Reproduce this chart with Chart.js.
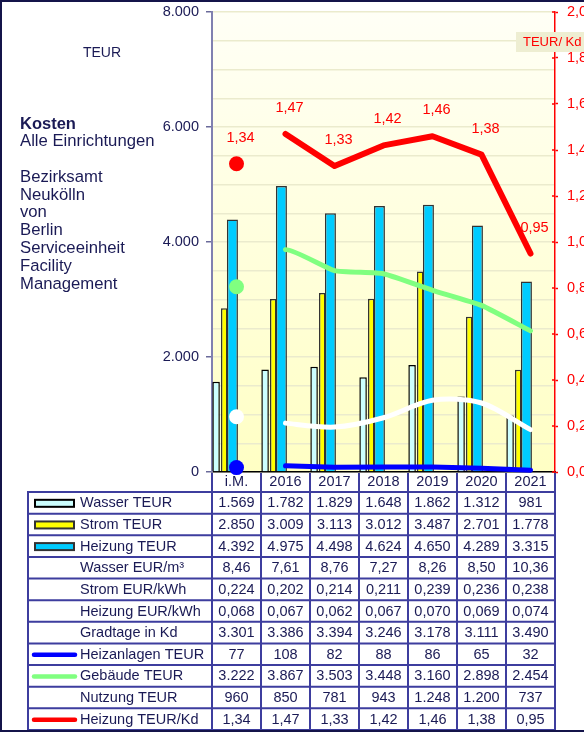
<!DOCTYPE html>
<html>
<head>
<meta charset="utf-8">
<script src="https://cdn.jsdelivr.net/npm/chart.js@4.4.1/dist/chart.umd.min.js"></script>
<style>
  html, body { margin: 0; padding: 0; background: #fff; }
  #wrap { width: 584px; height: 732px; position: relative; }
</style>
</head>
<body>
<div id="wrap"><canvas id="chart" width="584" height="732"></canvas></div>
<script>
// values
const categories      = ['i.M.', '2016', '2017', '2018', '2019', '2020', '2021'];
const wasserTEUR      = [1569, 1782, 1829, 1648, 1862, 1312, 981];
const stromTEUR       = [2850, 3009, 3113, 3012, 3487, 2701, 1778];
const heizungTEUR     = [4392, 4975, 4498, 4624, 4650, 4289, 3315];
const wasserEURm3     = [8.46, 7.61, 8.76, 7.27, 8.26, 8.50, 10.36];
const stromEURkWh     = [0.224, 0.202, 0.214, 0.211, 0.239, 0.236, 0.238];
const heizungEURkWh   = [0.068, 0.067, 0.062, 0.067, 0.070, 0.069, 0.074];
const gradtageKd      = [3301, 3386, 3394, 3246, 3178, 3111, 3490];
const heizanlagenTEUR = [77, 108, 82, 88, 86, 65, 32];
const gebaeudeTEUR    = [3222, 3867, 3503, 3448, 3160, 2898, 2454];
const nutzungTEUR     = [960, 850, 781, 943, 1248, 1200, 737];
const heizungTEURKd   = [1.34, 1.47, 1.33, 1.42, 1.46, 1.38, 0.95];

const sideTitle = 'Kosten';
const sideSub   = 'Alle Einrichtungen';
const sideLines = ['Bezirksamt', 'Neukölln', 'von', 'Berlin', 'Serviceeinheit', 'Facility', 'Management'];

const FONT   = "'Liberation Sans', Arial, sans-serif";
const NAVY   = '#1a1a55';
const TBLUE  = '#3d3d9e';
const C_WASSER = '#ccffff';
const C_STROM  = '#ffff00';
const C_HEIZ   = '#00ccff';
const C_BLUE   = '#0000ff';
const C_GREEN  = '#80ff80';
const C_WHITE  = '#ffffff';
const C_RED    = '#ff0000';

function fmtInt(v) {
  return String(Math.round(v)).replace(/\B(?=(\d{3})+(?!\d))/g, '.');
}
function fmtDec(d) {
  return v => v.toFixed(d).replace('.', ',');
}

const tableRows = [
  { label: 'Wasser TEUR',      values: wasserTEUR,      fmt: fmtInt,    bar: C_WASSER, edge: '#000' },
  { label: 'Strom TEUR',       values: stromTEUR,       fmt: fmtInt,    bar: C_STROM,  edge: '#333' },
  { label: 'Heizung TEUR',     values: heizungTEUR,     fmt: fmtInt,    bar: C_HEIZ,   edge: '#333' },
  { label: 'Wasser EUR/m³',    values: wasserEURm3,     fmt: fmtDec(2) },
  { label: 'Strom EUR/kWh',    values: stromEURkWh,     fmt: fmtDec(3) },
  { label: 'Heizung EUR/kWh',  values: heizungEURkWh,   fmt: fmtDec(3) },
  { label: 'Gradtage in Kd',   values: gradtageKd,      fmt: fmtInt },
  { label: 'Heizanlagen TEUR', values: heizanlagenTEUR, fmt: fmtInt,    line: C_BLUE },
  { label: 'Gebäude TEUR',     values: gebaeudeTEUR,    fmt: fmtInt,    line: C_GREEN },
  { label: 'Nutzung TEUR',     values: nutzungTEUR,     fmt: fmtInt },
  { label: 'Heizung TEUR/Kd',  values: heizungTEURKd,   fmt: fmtDec(2), line: C_RED }
];

Chart.defaults.font.family = FONT;
Chart.defaults.font.size = 14.5;
Chart.defaults.color = NAVY;

function barSet(label, data, fill, edge, pct) {
  return {
    type: 'bar', label, data, yAxisID: 'y', order: 10,
    backgroundColor: fill, borderColor: edge, borderWidth: 1.5,
    barPercentage: pct, categoryPercentage: 1
  };
}

// empty slots so the three bars sit in the left half of each year
function spacer() {
  return { type: 'bar', label: '', data: [], yAxisID: 'y', order: 10, categoryPercentage: 1 };
}

function lineSet(label, data, color, axis, width, tension, order) {
  return {
    type: 'line', label, data, yAxisID: axis, order,
    borderColor: color, backgroundColor: color, borderWidth: width,
    tension, clip: false,
    borderCapStyle: 'round', borderJoinStyle: 'round',
    pointRadius: ctx => ctx.dataIndex === 0 ? 7.5 : 0,
    pointBackgroundColor: color, pointBorderWidth: 0,
    segment: { borderColor: ctx => ctx.p0DataIndex === 0 ? 'rgba(0,0,0,0)' : undefined }
  };
}

// fixed axis widths, no extra room for the end labels
function fixWidth(width) {
  return s => {
    s.width = width;
    s.paddingTop = 0;
    s.paddingBottom = 0;
  };
}

const bgPlugin = {
  id: 'bg',
  beforeDraw(chart) {
    const { ctx, chartArea: a } = chart;
    ctx.save();
    ctx.fillStyle = '#fff';
    ctx.fillRect(0, 0, chart.width, chart.height);
    const g = ctx.createLinearGradient(0, a.top, 0, a.bottom);
    g.addColorStop(0, '#fffff6');
    g.addColorStop(1, '#ffffc4');
    ctx.fillStyle = g;
    ctx.fillRect(a.left, a.top, a.right - a.left, a.bottom - a.top);
    ctx.restore();
  }
};

const redLabels = {
  id: 'redLabels',
  afterDatasetsDraw(chart) {
    const idx = chart.data.datasets.findIndex(d => d.label === 'Heizung TEUR/Kd');
    const meta = chart.getDatasetMeta(idx);
    const ctx = chart.ctx;
    ctx.save();
    ctx.font = '14.5px ' + FONT;
    ctx.fillStyle = C_RED;
    ctx.textAlign = 'center';
    ctx.textBaseline = 'middle';
    meta.data.forEach((pt, i) => {
      ctx.fillText(fmtDec(2)(heizungTEURKd[i]), pt.x + 4, pt.y - 26);
    });
    ctx.restore();
  }
};

const decorPlugin = {
  id: 'decor',
  afterDraw(chart) {
    const ctx = chart.ctx;
    const xs = chart.scales.x;
    const y1 = chart.scales.y1;
    ctx.save();

    // inner half of the right axis ticks
    ctx.strokeStyle = C_RED;
    ctx.lineWidth = 1.5;
    y1.ticks.forEach(t => {
      const py = y1.getPixelForValue(t.value);
      ctx.beginPath();
      ctx.moveTo(y1.left - 3, py);
      ctx.lineTo(y1.left, py);
      ctx.stroke();
    });

    // unit box on the right axis
    ctx.fillStyle = '#eeeed2';
    ctx.fillRect(516, 32, 70, 20);
    ctx.fillStyle = C_RED;
    ctx.font = '13px ' + FONT;
    ctx.textBaseline = 'middle';
    ctx.textAlign = 'left';
    ctx.fillText('TEUR/ Kd', 523, 42.5);

    // side text
    ctx.fillStyle = NAVY;
    ctx.font = '14px ' + FONT;
    ctx.textAlign = 'center';
    ctx.fillText('TEUR', 102, 53);
    ctx.textAlign = 'left';
    ctx.font = 'bold 16.5px ' + FONT;
    ctx.fillText(sideTitle, 20, 124);
    ctx.font = '16.7px ' + FONT;
    ctx.fillText(sideSub, 20, 141);
    sideLines.forEach((s, i) => ctx.fillText(s, 20, 177 + i * 17.9));

    // data table
    const n = categories.length;
    const w = (xs.right - xs.left) / n;
    const colX = i => xs.left + i * w;
    const top = xs.bottom;
    const bottom = 730;
    const rowH = (bottom - top) / tableRows.length;
    const tblLeft = 28;

    ctx.strokeStyle = TBLUE;
    ctx.lineWidth = 2;
    ctx.beginPath();
    for (let i = 0; i <= n; i++) {
      ctx.moveTo(colX(i), xs.top + 1);
      ctx.lineTo(colX(i), bottom);
    }
    ctx.moveTo(tblLeft, top);
    ctx.lineTo(tblLeft, bottom);
    for (let r = 0; r <= tableRows.length; r++) {
      ctx.moveTo(tblLeft - 1, top + r * rowH);
      ctx.lineTo(xs.right + 1, top + r * rowH);
    }
    ctx.stroke();

    ctx.font = '14.5px ' + FONT;
    ctx.fillStyle = NAVY;
    tableRows.forEach((row, r) => {
      const cy = top + r * rowH + rowH / 2 + 0.5;
      ctx.textAlign = 'left';
      ctx.fillStyle = NAVY;
      ctx.fillText(row.label, 80, cy);
      ctx.textAlign = 'center';
      row.values.forEach((v, i) => ctx.fillText(row.fmt(v), colX(i) + w / 2, cy));
      if (row.bar) {
        ctx.fillStyle = row.bar;
        ctx.fillRect(35, cy - 3.5, 39, 7);
        ctx.strokeStyle = row.edge;
        ctx.lineWidth = 2;
        ctx.strokeRect(35, cy - 3.5, 39, 7);
      }
      if (row.line) {
        ctx.strokeStyle = row.line;
        ctx.lineWidth = 4.5;
        ctx.lineCap = 'round';
        ctx.beginPath();
        ctx.moveTo(34, cy);
        ctx.lineTo(75, cy);
        ctx.stroke();
      }
    });

    // frame
    ctx.strokeStyle = '#14144a';
    ctx.lineWidth = 2;
    ctx.lineCap = 'butt';
    ctx.beginPath();
    ctx.moveTo(0, 1); ctx.lineTo(chart.width, 1);
    ctx.moveTo(1, 0); ctx.lineTo(1, chart.height);
    ctx.moveTo(0, 731); ctx.lineTo(chart.width, 731);
    ctx.stroke();
    ctx.restore();
  }
};

new Chart(document.getElementById('chart'), {
  type: 'bar',
  data: {
    labels: categories,
    datasets: [
      barSet('Wasser TEUR', wasserTEUR, C_WASSER, '#000', 0.92),
      barSet('Strom TEUR', stromTEUR, C_STROM, '#333', 0.8),
      barSet('Heizung TEUR', heizungTEUR, C_HEIZ, '#333', 1.35),
      spacer(), spacer(), spacer(),
      lineSet('Heizanlagen TEUR', heizanlagenTEUR, C_BLUE, 'y', 5, 0, 1),
      lineSet('Gebäude TEUR', gebaeudeTEUR, C_GREEN, 'y', 5, 0.15, 1),
      lineSet('Nutzung TEUR', nutzungTEUR, C_WHITE, 'y', 5, 0.3, 1),
      lineSet('Heizung TEUR/Kd', heizungTEURKd, C_RED, 'y1', 6, 0, 0)
    ]
  },
  options: {
    responsive: false,
    animation: false,
    events: [],
    layout: { padding: { top: 12, bottom: 240, left: 0, right: 0 } },
    plugins: { legend: { display: false }, tooltip: { enabled: false } },
    scales: {
      x: {
        offset: true,
        grid: { display: false },
        border: { color: '#000', width: 1.5 },
        ticks: { color: NAVY, padding: -7, maxRotation: 0, autoSkip: false },
        afterFit: s => { s.height = 20; }
      },
      y: {
        position: 'left', min: 0, max: 8000,
        ticks: {
          stepSize: 500, autoSkip: false, color: NAVY, padding: 7,
          callback: v => v % 2000 === 0 ? fmtInt(v) : ''
        },
        grid: {
          color: '#ebebcd', lineWidth: 1.5, tickLength: 6, tickWidth: 1.5,
          tickColor: ctx => (ctx.tick && ctx.tick.value % 2000 === 0) ? '#6a6a9a' : 'rgba(0,0,0,0)'
        },
        border: { color: '#8080b0', width: 2 },
        afterFit: fixWidth(212)
      },
      y1: {
        position: 'right', min: 0, max: 2,
        ticks: { stepSize: 0.2, color: C_RED, padding: 9, callback: v => fmtDec(1)(v) },
        grid: { drawOnChartArea: false, tickLength: 3, tickWidth: 1.5, tickColor: C_RED },
        border: { color: C_RED, width: 1.5 },
        afterFit: fixWidth(29)
      }
    }
  },
  plugins: [bgPlugin, redLabels, decorPlugin]
});
</script>
</body>
</html>
